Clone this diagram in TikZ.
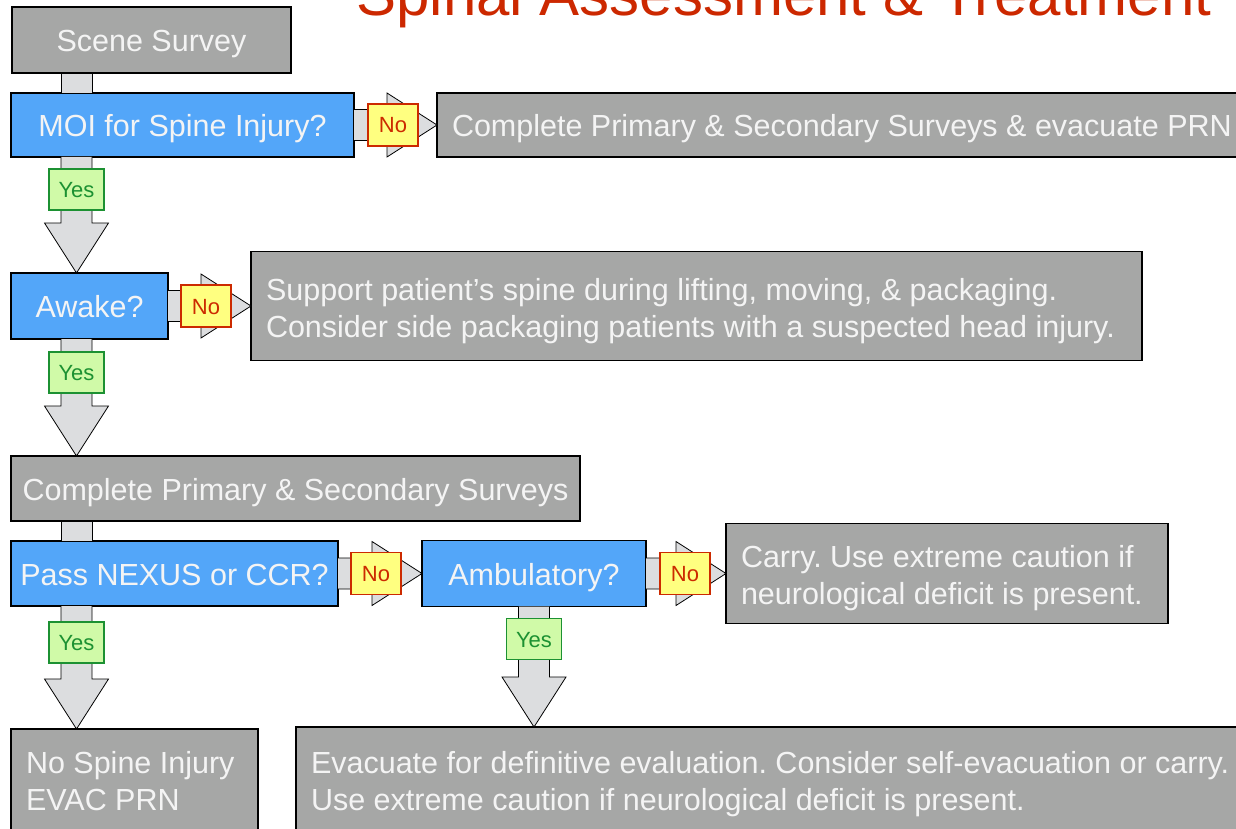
\documentclass[tikz,border=0pt]{standalone}
\usepackage{fontspec}
\setmainfont{Liberation Sans}
\usetikzlibrary{positioning,calc}

\definecolor{boxgray}{RGB}{166,167,166}
\definecolor{boxtext}{RGB}{244,244,244}
\definecolor{qblue}{RGB}{83,166,249}
\definecolor{arrowgray}{RGB}{220,221,223}
\definecolor{yesfill}{RGB}{208,250,168}
\definecolor{yesline}{RGB}{28,145,50}
\definecolor{nofill}{RGB}{255,255,128}
\definecolor{noline}{RGB}{204,42,0}
\definecolor{titlered}{RGB}{204,40,0}

\tikzset{
  box/.style={draw=black, line width=1.5pt, fill=boxgray, text=boxtext, inner sep=0pt, outer sep=0pt, font=\fontsize{30.5}{37}\selectfont\frenchspacing},
  gbox/.style={box, text height=23.5pt, text depth=0pt},
  qbox/.style={gbox, fill=qblue},
  tbox/.style={box, align=flush left, inner xsep=15pt},
  fatarrow/.style={draw=black, line width=0.8pt, fill=arrowgray},
  nobox/.style={draw=noline, line width=1.5pt, fill=nofill, text=noline, minimum width=50pt, minimum height=42pt, inner sep=0pt, outer sep=0pt, text height=16pt, text depth=0pt, font=\fontsize{22}{26}\selectfont},
  yesbox/.style={nobox, draw=yesline, fill=yesfill, text=yesline, minimum width=55pt, minimum height=41pt}
}

% fat arrows: from node to node
\newcommand\fatright[2]{\draw[fatarrow] let \p1=(#1), \p2=(#2) in (\x1,\y1+15.5pt) -- (\x2-50pt,\y1+15.5pt) -- (\x2-50pt,\y1+32pt) -- (\x2,\y1) -- (\x2-50pt,\y1-32pt) -- (\x2-50pt,\y1-15.5pt) -- (\x1,\y1-15.5pt);}
\newcommand\fatdown[2]{\draw[fatarrow] let \p1=(#1), \p2=(#2) in (\x1-15.5pt,\y1) -- (\x1-15.5pt,\y2+50pt) -- (\x1-32pt,\y2+50pt) -- (\x1,\y2) -- (\x1+32pt,\y2+50pt) -- (\x1+15.5pt,\y2+50pt) -- (\x1+15.5pt,\y1);}
\newcommand\fatlink[2]{\draw[fatarrow] let \p1=(#1), \p2=(#2) in (\x1-15.5pt,\y1) rectangle (\x1+15.5pt,\y2);}

\begin{document}
\begin{tikzpicture}[x=1pt,y=-1pt]
    \useasboundingbox (0,0) rectangle (1236,829);
    \clip (0,0) rectangle (1236,829);
    \node (tt) [anchor=base west, text=titlered, font=\fontsize{60}{70}\selectfont] at (353,16) {Spinal Assessment \& Treatment};
    %%%%%%%%%
    \node (ss) [gbox, anchor=north west, minimum width=279pt, minimum height=66pt] at (12,7) {Scene Survey};
    \node (q1) [qbox, minimum width=343pt, minimum height=64pt, below right=20pt and -1pt of ss.south west] {MOI for Spine Injury?};
        \node (r1) [gbox, align=flush left, inner xsep=15pt, text width=800pt, minimum height=64pt, right=83pt of q1] {Complete Primary \& Secondary Surveys \& evacuate PRN};
    \node (q2) [qbox, minimum width=157pt, minimum height=66pt, below right=116pt and 0pt of q1.south west] {Awake?};
        \node (r2) [tbox, text width=861pt, text height=32pt, minimum height=109pt, right=83pt of q2] {Support patient’s spine during lifting, moving, \& packaging.\\Consider side packaging patients with a suspected head injury.};
    \node (s1) [gbox, minimum width=569pt, minimum height=65pt, below right=117pt and 0pt of q2.south west] {Complete Primary \& Secondary Surveys};
    \node (q3) [qbox, minimum width=327pt, minimum height=65pt, below right=20pt and 0pt of s1.south west] {Pass NEXUS or CCR?};
        \node (q4) [qbox, minimum width=224pt, minimum height=66pt, right=84pt of q3] {Ambulatory?};
        \node (r3) [tbox, text width=412pt, text height=32pt, minimum height=100pt, right=80pt of q4] {Carry. Use extreme caution if\\neurological deficit is present.};
    \node (r4) [tbox, text width=217pt, minimum height=105pt, below right=123pt and 0pt of q3.south west] {No Spine Injury\\EVAC PRN};
        \node (r5) [tbox, anchor=north west, text width=935pt, text height=28pt, minimum height=109pt] at (296,727) {Evacuate for definitive evaluation. Consider self-evacuation or carry.\\Use extreme caution if neurological deficit is present.};
    %%%%%%%%%
    \coordinate (a1) at ([xshift=64.5pt]ss.south west);
    \coordinate (a2) at ([xshift=65.5pt]q1.south west);
    \coordinate (a3) at ([xshift=65.5pt]q2.south west);
    \coordinate (a4) at ([xshift=65.5pt]s1.south west);
    \coordinate (a5) at ([xshift=65.5pt]q3.south west);
        \fatlink{a1}{q1.north}
        \fatdown{a2}{q2.north}
        \fatdown{a3}{s1.north}
        \fatlink{a4}{q3.north}
        \fatdown{a5}{r4.north}
        \fatdown{q4.south}{r5.north}
        \fatright{q1.east}{r1.west}
        \fatright{q2.east}{r2.west}
        \fatright{q3.east}{q4.west}
        \fatright{q4.east}{r3.west}
    %%%%%%%%%
    \node (n1) [nobox, right=14pt of q1] {No};
    \node (n2) [nobox, right=13pt of q2] {No};
    \node (n3) [nobox, right=13pt of q3] {No};
    \node (n4) [nobox, right=14pt of q4] {No};
    \node (y1) [yesbox, below=12pt of a2] {Yes};
    \node (y2) [yesbox, below=13pt of a3] {Yes};
    \node (y3) [yesbox, below=16pt of a5] {Yes};
    \node (y4) [yesbox, below=12pt of q4.south] {Yes};
\end{tikzpicture}
\end{document}
